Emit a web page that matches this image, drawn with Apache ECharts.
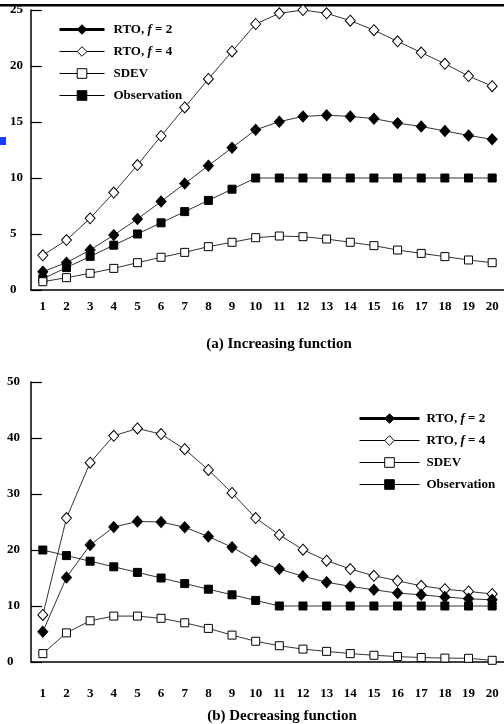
<!DOCTYPE html>
<html><head><meta charset="utf-8">
<script src="https://cdn.jsdelivr.net/npm/echarts@6/dist/echarts.min.js"></script>
<style>html,body{margin:0;padding:0;background:#fff}#c{width:504px;height:724px}</style>
</head><body><div id="c"></div>
<script>
const categories = ['1','2','3','4','5','6','7','8','9','10','11','12','13','14','15','16','17','18','19','20'];
const names = ['RTO, f = 2','RTO, f = 4','SDEV','Observation'];
// (a) Increasing function
const incRto2 = [1.64,2.44,3.57,4.9,6.34,7.9,9.5,11.1,12.7,14.3,15.03,15.5,15.6,15.5,15.3,14.9,14.6,14.2,13.8,13.45];
const incRto4 = [3.1,4.46,6.4,8.7,11.16,13.75,16.3,18.84,21.3,23.75,24.7,25.0,24.7,24.05,23.2,22.2,21.2,20.2,19.1,18.2];
const incSdev = [0.74,1.1,1.49,1.93,2.44,2.92,3.36,3.87,4.26,4.67,4.82,4.76,4.55,4.26,3.96,3.57,3.27,2.98,2.68,2.44];
const incObs  = [1,2,3,4,5,6,7,8,9,10,10,10,10,10,10,10,10,10,10,10];
// (b) Decreasing function
const decRto2 = [5.4,15.1,20.9,24.1,25.1,25.0,24.06,22.4,20.5,18.1,16.6,15.3,14.25,13.5,12.9,12.3,12.0,11.6,11.3,11.1];
const decRto4 = [8.4,25.7,35.6,40.4,41.7,40.7,38.0,34.3,30.2,25.7,22.7,20.05,18.1,16.6,15.4,14.5,13.6,13.0,12.6,12.15];
const decSdev = [1.5,5.2,7.36,8.2,8.2,7.8,7.0,6.0,4.8,3.7,2.9,2.3,1.9,1.5,1.2,0.97,0.8,0.7,0.66,0.3];
const decObs  = [20,19,18,17,16,15,14,13,12,11,10,10,10,10,10,10,10,10,10,10];
const yTicksA = [0,5,10,15,20,25];
const yTicksB = [0,10,20,30,40,50];

const FONT = 'Liberation Serif';
const chart = echarts.init(document.getElementById('c'));

const styles = [
  {symbol:'diamond', symbolSize:[10,11], fill:'#000'},
  {symbol:'diamond', symbolSize:[10,11], fill:'#fff'},
  {symbol:'rect', symbolSize:8, fill:'#fff'},
  {symbol:'rect', symbolSize:8, fill:'#000'}
];
function mkSeries(data, i, gi) {
  return {
    name: names[i], type:'line', xAxisIndex: gi, yAxisIndex: gi, data: data,
    symbol: styles[i].symbol, symbolSize: styles[i].symbolSize,
    showAllSymbol: true, animation:false,
    lineStyle:{color:'#333', width:1},
    itemStyle:{color:styles[i].fill, borderColor:'#000', borderWidth:1},
    z: 3 + (3 - i)
  };
}
function legendFmt(name) {
  if (name === 'RTO, f = 2') return '{b|RTO, }{i|f}{b| = 2}';
  if (name === 'RTO, f = 4') return '{b|RTO, }{i|f}{b| = 4}';
  return '{b|' + name + '}';
}
const rich = {
  b:{fontFamily:FONT, fontWeight:'bold', fontSize:13, color:'#000'},
  i:{fontFamily:FONT, fontWeight:'bold', fontStyle:'italic', fontSize:13, color:'#000'}
};
function legendData() {
  return names.map((n, i) => ({
    name: n,
    lineStyle: {color:'#000', width: i === 0 ? 3 : 1},
    itemStyle: {color: styles[i].fill, borderColor:'#000', borderWidth:1}
  }));
}
function xAxis(gi, margin) {
  return {
    type:'category', gridIndex: gi, data: categories, boundaryGap: true,
    axisLine:{lineStyle:{color:'#000', width:1.5}},
    axisTick:{inside:true, length:7, lineStyle:{color:'#000', width:1}},
    axisLabel:{fontFamily:FONT, fontWeight:'bold', fontSize:13, color:'#000', margin: margin, interval:0},
    splitLine:{show:false}
  };
}
function yAxis(gi, ticks, margin) {
  return {
    type:'value', gridIndex: gi, min: ticks[0], max: ticks[ticks.length-1],
    interval: ticks[1]-ticks[0],
    axisLine:{show:true, lineStyle:{color:'#000', width:1.5}},
    axisTick:{show:true, inside:true, length:11, lineStyle:{color:'#000', width:1.2}},
    axisLabel:{fontFamily:FONT, fontWeight:'bold', fontSize:13, color:'#000', margin: margin, align:'left'},
    splitLine:{show:false}
  };
}

chart.setOption({
  backgroundColor:'#fff',
  animation:false,
  grid:[
    {left:31, right:-1, top:10, bottom:434},
    {left:31, right:-1, top:382, bottom:62}
  ],
  xAxis:[xAxis(0, 10), xAxis(1, 25)],
  yAxis:[yAxis(0, yTicksA, 21), yAxis(1, yTicksB, 24)],
  legend:[
    {orient:'vertical', left:58, top:23, padding:0, itemWidth:45, itemHeight:12, itemGap:9,
     data: legendData(), formatter: legendFmt, textStyle:{rich: rich, padding:[0,0,0,4]}, selectedMode:false},
    {orient:'vertical', left:358, top:412, padding:0, itemWidth:60, itemHeight:12, itemGap:9,
     data: legendData(), formatter: legendFmt, textStyle:{rich: rich, padding:[0,0,0,2]}, selectedMode:false}
  ],
  series:[
    mkSeries(incRto2,0,0), mkSeries(incRto4,1,0), mkSeries(incSdev,2,0), mkSeries(incObs,3,0),
    mkSeries(decRto2,0,1), mkSeries(decRto4,1,1), mkSeries(decSdev,2,1), mkSeries(decObs,3,1)
  ],
  graphic:[
    {type:'rect', shape:{x:0, y:4, width:504, height:2.5}, style:{fill:'#000'}, silent:true},
    {type:'rect', shape:{x:0, y:137, width:6, height:8}, style:{fill:'#1a3cff'}, silent:true},
    {type:'text', x:279, y:344, style:{text:'(a) Increasing function', fontFamily:FONT, fontWeight:'bold', fontSize:15, fill:'#000', align:'center', verticalAlign:'middle'}},
    {type:'text', x:282, y:716, style:{text:'(b) Decreasing function', fontFamily:FONT, fontWeight:'bold', fontSize:15, fill:'#000', align:'center', verticalAlign:'middle'}}
  ]
});
</script></body></html>
